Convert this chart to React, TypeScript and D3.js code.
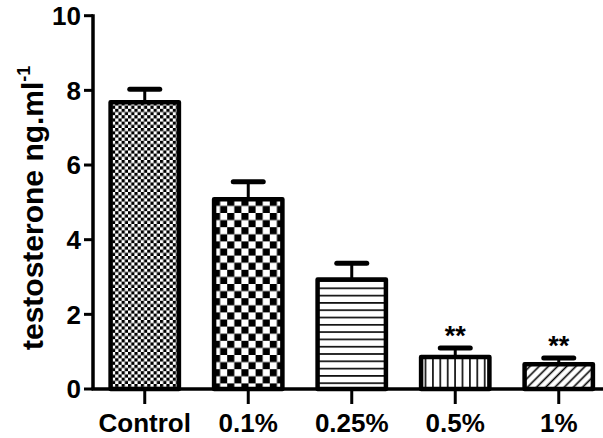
import React from "react";
import * as d3 from "d3";

const categories = ["Control", "0.1%", "0.25%", "0.5%", "1%"];
const means = [7.68, 5.08, 2.93, 0.86, 0.66];
const sems = [0.35, 0.47, 0.44, 0.24, 0.17];
const stars = ["", "", "", "**", "**"];
const yTicks = [0, 2, 4, 6, 8, 10];
const patternIds = ["pFineCheck", "pCoarseCheck", "pHoriz", "pVert", "pDiag"];

const W = 603;
const H = 438;
const FONT = "'Liberation Sans', Arial, Helvetica, sans-serif";

export default function App() {
  const x = d3
    .scaleBand<string>()
    .domain(categories)
    .range([93, 610.5])
    .paddingInner(0.34)
    .paddingOuter(0.17);
  const y = d3.scaleLinear().domain([0, 10]).range([389, 15.7]);
  const bw = x.bandwidth();

  return (
    <div style={{ position: "absolute", left: 0, top: 0 }}>
      <svg width={W} height={H} style={{ display: "block", background: "#fff" }}>
        <defs>
          <pattern id="pFineCheck" width={6.4} height={6.4} patternUnits="userSpaceOnUse">
            <rect width={6.4} height={6.4} fill="#fff" />
            <rect width={3.2} height={3.2} fill="#000" />
            <rect x={3.2} y={3.2} width={3.2} height={3.2} fill="#000" />
          </pattern>
          <pattern id="pCoarseCheck" width={14.2} height={14.2} patternUnits="userSpaceOnUse">
            <rect width={14.2} height={14.2} fill="#fff" />
            <rect width={7.1} height={7.1} fill="#000" />
            <rect x={7.1} y={7.1} width={7.1} height={7.1} fill="#000" />
          </pattern>
          <pattern id="pHoriz" width={10} height={7.3} patternUnits="userSpaceOnUse">
            <rect width={10} height={7.3} fill="#fff" />
            <line x1={0} x2={10} y1={3.6} y2={3.6} stroke="#000" strokeWidth={1.6} />
          </pattern>
          <pattern id="pVert" width={7.4} height={10} patternUnits="userSpaceOnUse">
            <rect width={7.4} height={10} fill="#fff" />
            <line x1={3.7} x2={3.7} y1={0} y2={10} stroke="#000" strokeWidth={1.6} />
          </pattern>
          <pattern
            id="pDiag"
            width={6.5}
            height={6.5}
            patternUnits="userSpaceOnUse"
            patternTransform="rotate(45)"
          >
            <rect width={6.5} height={6.5} fill="#fff" />
            <line x1={3.25} x2={3.25} y1={0} y2={6.5} stroke="#000" strokeWidth={1.6} />
          </pattern>
        </defs>

        {/* bars */}
        {categories.map((c, i) => {
          const x0 = x(c)!;
          const cx = x0 + bw / 2;
          const yt = y(means[i]);
          const ye = y(means[i] + sems[i]);
          return (
            <g key={c}>
              <line x1={cx} x2={cx} y1={yt} y2={ye} stroke="#000" strokeWidth={3} />
              <line
                x1={cx - 15}
                x2={cx + 15}
                y1={ye}
                y2={ye}
                stroke="#000"
                strokeWidth={5}
                strokeLinecap="round"
              />
              <rect
                x={x0}
                y={yt}
                width={bw}
                height={y(0) - yt}
                fill={`url(#${patternIds[i]})`}
                stroke="#000"
                strokeWidth={4.5}
                strokeLinejoin="round"
              />
              {stars[i] && (
                <text
                  x={cx}
                  y={ye - 3}
                  textAnchor="middle"
                  fontFamily={FONT}
                  fontSize={27}
                  fontWeight="bold"
                >
                  {stars[i]}
                </text>
              )}
            </g>
          );
        })}

        {/* y axis */}
        <line x1={93} x2={93} y1={y(10) - 1.5} y2={y(0)} stroke="#000" strokeWidth={3.5} />
        {yTicks.map((t) => (
          <g key={t}>
            <line x1={84} x2={93} y1={y(t)} y2={y(t)} stroke="#000" strokeWidth={3} />
            <text
              x={81}
              y={y(t)}
              dy="0.36em"
              textAnchor="end"
              fontFamily={FONT}
              fontSize={26}
              fontWeight="bold"
            >
              {t}
            </text>
          </g>
        ))}

        {/* x axis */}
        <line x1={91.5} x2={603} y1={y(0)} y2={y(0)} stroke="#000" strokeWidth={3.5} />
        {categories.map((c) => {
          const cx = x(c)! + bw / 2;
          return (
            <g key={c}>
              <line x1={cx} x2={cx} y1={y(0)} y2={y(0) + 15} stroke="#000" strokeWidth={3} />
              <text
                x={cx}
                y={432}
                textAnchor="middle"
                fontFamily={FONT}
                fontSize={26}
                fontWeight="bold"
              >
                {c}
              </text>
            </g>
          );
        })}

        {/* y label */}
        <text
          transform="translate(43,350) rotate(-90)"
          fontFamily={FONT}
          fontSize={30}
          fontWeight="bold"
        >
          testosterone ng.ml
          <tspan fontSize={18} dy={-13}>
            -1
          </tspan>
        </text>
      </svg>
    </div>
  );
}
